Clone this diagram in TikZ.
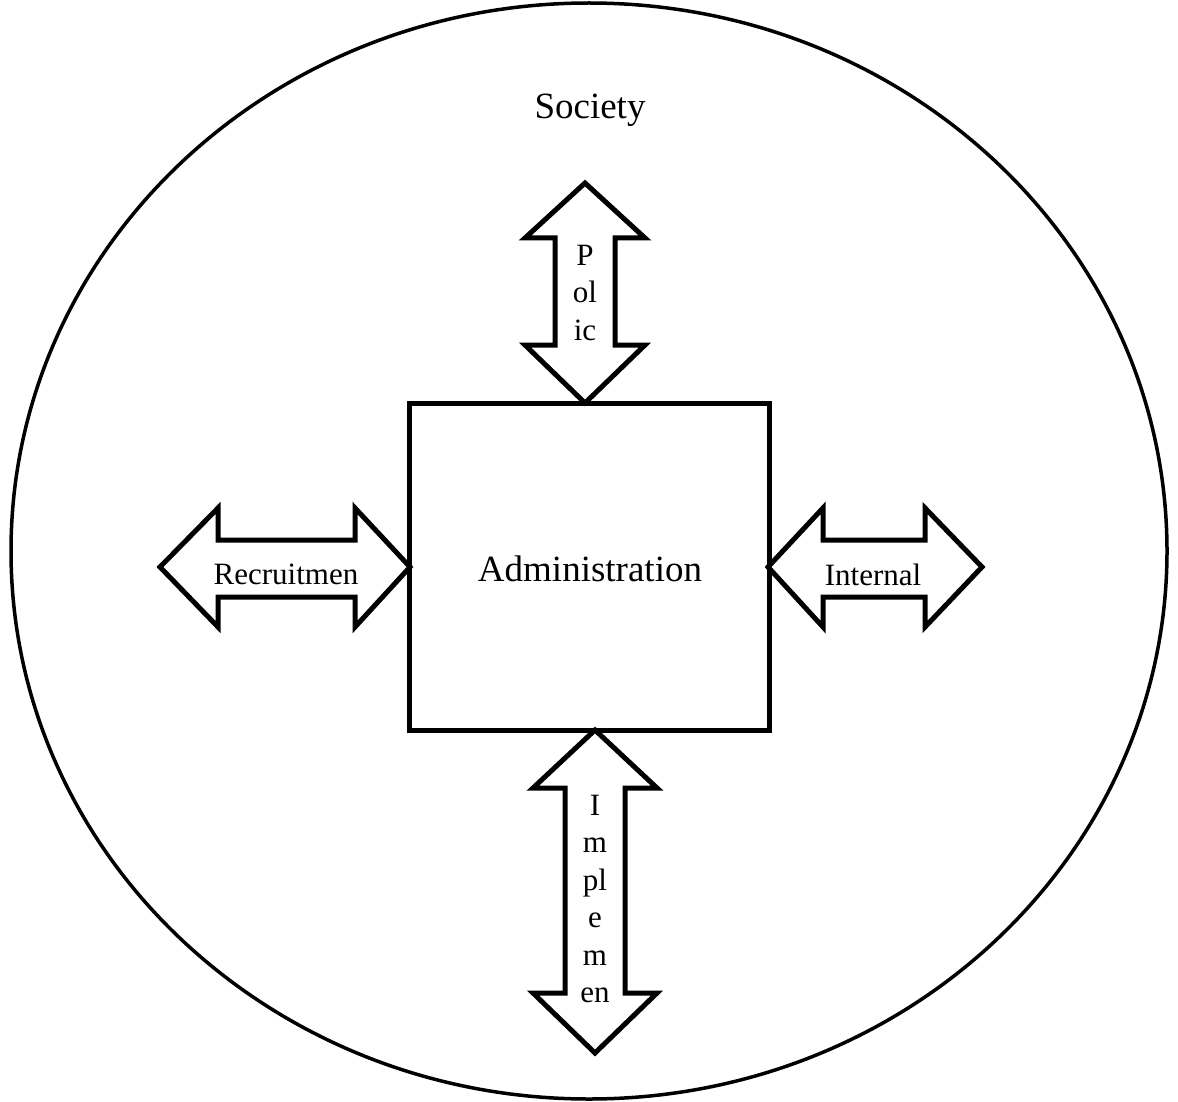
\documentclass[tikz,border=0pt]{standalone}
\usepackage{fontspec}
\setmainfont{Liberation Serif}
\begin{document}
\begin{tikzpicture}[x=1pt,y=-1pt,
  outline/.style={draw=black,line width=5pt,line join=miter,fill=white},
  bigtext/.style={font=\fontsize{37}{44}\selectfont,inner sep=0pt},
  arrowtext/.style={font=\fontsize{31}{37.5}\selectfont,inner sep=0pt,align=center}]
\useasboundingbox (0,0) rectangle (1178,1102);
% society boundary
\draw[line width=3.5pt] (589,551) ellipse [x radius=578, y radius=548];
\node[bigtext] (society) at (590,110) {Society};
% administration box
\node[outline,minimum width=360pt,minimum height=327pt,inner sep=0pt] (admin) at (589,566.5) {};
\node[bigtext] (admintext) at (590,569) {Administration};
% block arrows
\draw[outline] (585,183) -- (645,238) -- (615,238) -- (615,345) -- (645,345) -- (585,403)
  -- (525,345) -- (555,345) -- (555,238) -- (525,238) -- cycle;
\draw[outline] (160,567) -- (218,508) -- (218,540) -- (355,540) -- (355,508) -- (410,567)
  -- (355,627) -- (355,597) -- (218,597) -- (218,627) -- cycle;
\draw[outline] (768,567) -- (823,508) -- (823,540) -- (925,540) -- (925,508) -- (982,567)
  -- (925,627) -- (925,597) -- (823,597) -- (823,627) -- cycle;
\draw[outline] (595,730) -- (657,788) -- (625,788) -- (625,993) -- (657,993) -- (595,1053)
  -- (533,993) -- (565,993) -- (565,788) -- (533,788) -- cycle;
% arrow labels
\node[arrowtext] (policy) at (585,293) {P\\ol\\ic};
\node[arrowtext] (recruit) at (286,574) {Recruitmen};
\node[arrowtext] (internal) at (873,575) {Internal};
\node[arrowtext] (implement) at (595,899) {I\\m\\pl\\e\\m\\en};
\end{tikzpicture}
\end{document}
